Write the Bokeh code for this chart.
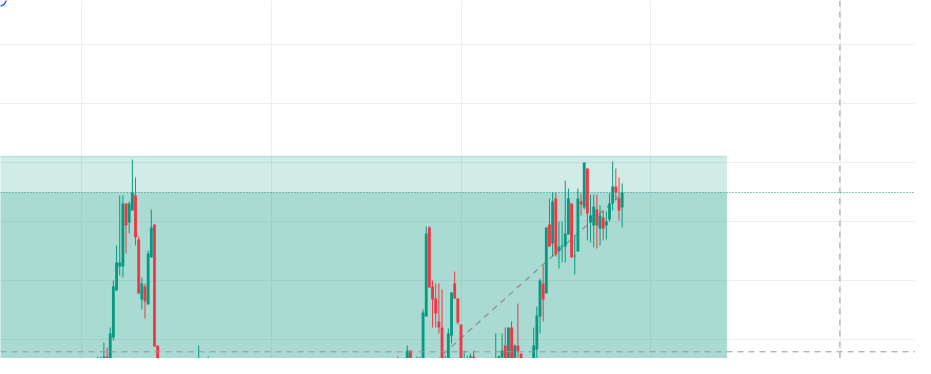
from bokeh.plotting import figure
from bokeh.models import Range1d, FixedTicker, Span, ColumnDataSource
from bokeh.embed import file_html
from bokeh.resources import INLINE

# ---- data (bar index, OHLC) ----
bar_index = [5, 6, 7, 8, 9, 10, 11, 12, 13, 14, 15, 16, 17, 18, 19, 20, 21, 22, 23, 24,
             36, 37, 38, 39, 40, 41,
             100, 103, 104, 105, 106, 107, 108, 109, 110, 111, 112, 113, 114, 115, 116, 117,
             118, 119, 120, 121, 122, 123, 124,
             128, 131, 132, 133, 134, 135, 136, 137, 138, 139, 140,
             143, 144, 145, 146, 147, 148, 149, 150, 151, 152, 153, 154, 155, 156, 157, 158,
             159, 160, 161, 162, 163, 164, 165, 166, 167, 168, 169, 170, 171]
opens = [10, 15, 22, 44, 20, 63, 110, 134, 134, 197, 178, 190, 205, 161, 101, 114, 96, 143, 176, 55,
         5, 10, 35, 29, 15, 32,
         29, 31, 50, 22, 10, 20, 22, 84, 173, 114, 102, 79, 73, 36, 40, 65,
         117, 102, 76, 10, 8, 15, 44,
         5, 10, 15, 43, 55, 38, 73, 15, 55, 47, 10,
         15, 51, 84, 117, 107, 176, 157, 202, 149, 154, 154, 166, 197, 144, 149, 199,
         193, 232, 178, 175, 191, 172, 183, 175, 181, 197, 214, 202, 193]
highs = [44, 44, 58, 53, 73, 120, 155, 205, 205, 197, 199, 241, 223, 164, 123, 117, 150, 191, 176, 55,
         29, 55, 41, 31, 44, 33,
         44, 55, 50, 38, 44, 44, 91, 174, 174, 120, 117, 117, 111, 45, 72, 108,
         129, 102, 76, 50, 45, 47, 50,
         29, 67, 45, 67, 73, 73, 79, 56, 97, 47, 38,
         73, 94, 122, 135, 173, 202, 208, 208, 179, 179, 220, 212, 197, 165, 212, 207,
         238, 232, 206, 206, 206, 195, 190, 189, 207, 239, 232, 223, 217]
lows = [5, 10, 18, 15, 16, 60, 110, 125, 123, 147, 167, 190, 155, 107, 91, 82, 96, 143, 54, 5,
        2, 5, 10, 10, 10, 8,
        5, 20, 5, 5, 5, 15, 18, 84, 113, 73, 73, 67, 38, 20, 20, 57,
        102, 76, 5, 5, 5, 10, 8,
        2, 5, 10, 32, 10, 30, 10, 10, 38, 5, 5,
        10, 29, 67, 79, 107, 154, 144, 144, 132, 138, 138, 166, 143, 126, 149, 185,
        191, 160, 158, 153, 152, 155, 160, 161, 179, 190, 200, 180, 173]
closes = [20, 32, 44, 20, 67, 114, 138, 138, 197, 175, 197, 208, 163, 107, 117, 99, 147, 173, 54, 10,
          15, 29, 15, 15, 32, 12,
          10, 50, 10, 12, 22, 38, 88, 167, 113, 101, 87, 73, 40, 38, 67, 108,
          102, 78, 10, 20, 18, 44, 12,
          15, 22, 44, 50, 15, 73, 15, 55, 49, 10, 20,
          55, 85, 120, 101, 173, 154, 199, 146, 154, 155, 167, 202, 143, 145, 202, 196,
          238, 187, 185, 194, 175, 185, 172, 179, 197, 214, 208, 190, 208]

# drawings on the chart
zone_top = 244          # upper edge of the shaded zone
zone_right = 204.2      # bar index where the shaded zone ends
zone_left = -60
zone_bottom = -50
trend_bars = [104, 170]
trend_prices = [17, 204]
crosshair_bar = 239.9
crosshair_price = 48.7
handle_bar = [-26.0]
handle_price = [401.0]
grid_bars = [0, 60, 120, 180, 240]
grid_prices = [60.7, 119.7, 178.7, 237.7, 296.7, 355.7]

UP = "#089981"
DOWN = "#F23645"
last_close = closes[-1]

colors = [UP if c >= o else DOWN for o, c in zip(opens, closes)]
src = ColumnDataSource(dict(
    x=bar_index,
    top=[max(o, c) for o, c in zip(opens, closes)],
    bottom=[min(o, c) for o, c in zip(opens, closes)],
    high=highs, low=lows, color=colors,
))

p = figure(width=915, height=358, output_backend="svg", toolbar_location=None,
           x_range=Range1d(-25.728, 263.829), y_range=Range1d(42, 400),
           x_axis_location=None, y_axis_location=None, min_border=0,
           background_fill_color="white", border_fill_color="white",
           outline_line_color=None)

p.xgrid.ticker = FixedTicker(ticks=grid_bars)
p.ygrid.ticker = FixedTicker(ticks=grid_prices)
p.xgrid.grid_line_color = "#EDEEF0"
p.ygrid.grid_line_color = "#EDEEF0"

# shaded zone (two overlapping translucent rectangles)
p.quad(left=[zone_left], right=[zone_right], top=[zone_top], bottom=[zone_bottom],
       fill_color=UP, fill_alpha=0.19, line_color=None)
p.quad(left=[zone_left], right=[zone_right], top=[last_close], bottom=[zone_bottom],
       fill_color=UP, fill_alpha=0.2, line_color=None)
p.segment(x0=[zone_left], y0=[zone_top], x1=[zone_right], y1=[zone_top],
          line_color=UP, line_alpha=0.2, line_width=1.5)

# last price line
p.add_layout(Span(location=last_close, dimension="width", line_color=UP,
                  line_width=1, line_dash="1 2", level="glyph"))

# trend line
p.line(trend_bars, trend_prices, line_color="#8C8F97", line_width=1.3, line_dash="6 5")

# candles
p.segment(x0="x", y0="low", x1="x", y1="high", line_color="color", line_width=1, source=src)
p.vbar(x="x", top="top", bottom="bottom", width=0.9, fill_color="color",
       line_color=None, source=src)

# drawing handle in the corner
p.scatter(handle_bar, handle_price, size=13, marker="circle", fill_color="white",
          line_color="#2962FF", line_width=1.5)

# crosshair
p.add_layout(Span(location=crosshair_bar, dimension="height", line_color="#9598A1",
                  line_width=1, line_dash="6 5"))
p.add_layout(Span(location=crosshair_price, dimension="width", line_color="#9598A1",
                  line_width=1, line_dash="6 5"))

open("out.html", "w").write(file_html(p, INLINE))
